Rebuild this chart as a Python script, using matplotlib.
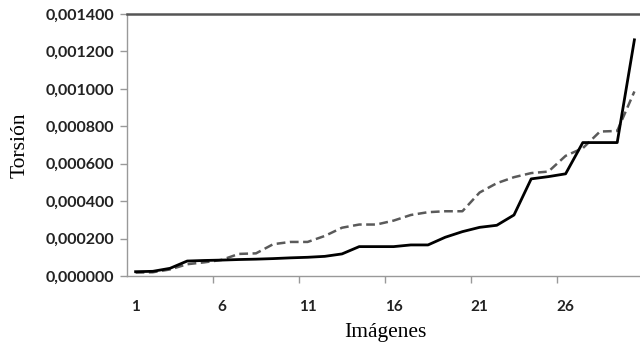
import matplotlib
matplotlib.use("Agg")
from matplotlib import pyplot as plt
from matplotlib.ticker import FuncFormatter, FixedLocator
import numpy as np

images = list(range(1, 31))
solid = [0.000023, 0.000025, 0.000041, 0.000080, 0.000083, 0.000085, 0.000088, 0.000090,
         0.000093, 0.000097, 0.000100, 0.000105, 0.000118, 0.000157, 0.000157, 0.000157,
         0.000166, 0.000166, 0.000207, 0.000237, 0.000260, 0.000271, 0.000326, 0.000519,
         0.000531, 0.000546, 0.000713, 0.000713, 0.000713, 0.001262]
dashed = [0.000018, 0.000020, 0.000035, 0.000063, 0.000073, 0.000086, 0.000118, 0.000121,
          0.000170, 0.000182, 0.000182, 0.000214, 0.000258, 0.000275, 0.000275, 0.000296,
          0.000326, 0.000341, 0.000346, 0.000346, 0.000446, 0.000496, 0.000528, 0.000550,
          0.000558, 0.000642, 0.000683, 0.000772, 0.000775, 0.000986]
xlabels = ["1", "6", "11", "16", "21", "26"]
yticks = [0.0, 0.0002, 0.0004, 0.0006, 0.0008, 0.0010, 0.0012, 0.0014]

fig = plt.figure(figsize=(6.4, 3.48), dpi=100)
ax = fig.add_axes([127 / 640, 1 - 276 / 348, 516 / 640, 262 / 348])

ax.plot(images, dashed, color="#5a5a5a", lw=1.8, linestyle=(0, (3.5, 1.8)))
ax.plot(images, solid, color="black", lw=2.0)

ax.set_xlim(0.5, 30.5)
ax.set_ylim(0, 0.0014)

ax.xaxis.set_major_locator(FixedLocator([int(s) for s in xlabels]))
ax.set_xticklabels(xlabels)
ax.xaxis.set_minor_locator(FixedLocator([5.5, 10.5, 15.5, 20.5, 25.5]))
ax.tick_params(axis="x", which="major", length=0, pad=17, labelsize=11)
ax.tick_params(axis="x", which="minor", length=5, width=1, color="#999999", direction="out")

ax.set_yticks(yticks)
ax.yaxis.set_major_formatter(FuncFormatter(lambda v, p: f"{v:.6f}".replace(".", ",")))
ax.tick_params(axis="y", length=5, width=1, color="#999999", labelsize=11.5, pad=4)
for lab in ax.get_xticklabels() + ax.get_yticklabels():
    lab.set_fontfamily("Lato")
    lab.set_fontweight("bold")
    lab.set_color("#222222")

for s in ["left", "bottom"]:
    ax.spines[s].set_color("#999999")
    ax.spines[s].set_linewidth(1)
ax.spines["right"].set_visible(False)
ax.spines["top"].set_color("#555555")
ax.spines["top"].set_linewidth(1.8)

ax.set_ylabel("Torsión", family="Liberation Serif", fontsize=15.5, labelpad=12)
ax.set_xlabel("Imágenes", family="Liberation Serif", fontsize=15.5, labelpad=7)

fig.savefig("out.png", dpi=100)
